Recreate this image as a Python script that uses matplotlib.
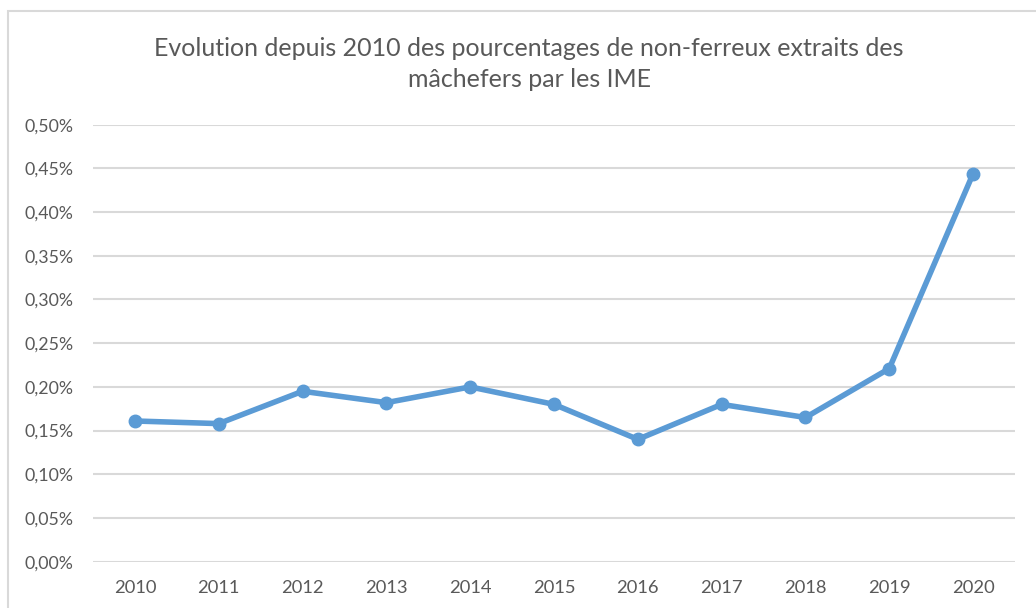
import matplotlib
matplotlib.use("Agg")
import matplotlib.pyplot as plt
from matplotlib.ticker import FuncFormatter, MultipleLocator
from matplotlib.patches import Rectangle

# Data (values in %)
years = ["2010", "2011", "2012", "2013", "2014", "2015",
         "2016", "2017", "2018", "2019", "2020"]
pct_non_ferreux = [0.161, 0.158, 0.195, 0.182, 0.200, 0.180,
                   0.140, 0.180, 0.165, 0.221, 0.444]

title = "Evolution depuis 2010 des pourcentages de non-ferreux extraits des\nmâchefers par les IME"

plt.rcParams['font.family'] = ['Lato', 'DejaVu Sans']

fig = plt.figure(figsize=(10.36, 6.08), dpi=100)
ax = fig.add_axes([93 / 1036, 1 - 561.7 / 608, (1015 - 93) / 1036, (561.7 - 124.7) / 608])

# chart area border (cut off on right and bottom like the screenshot)
fig.patches.append(Rectangle((8 / 1036, -0.1), 1.2, 1 - 11 / 608 + 0.1,
                             transform=fig.transFigure, fill=False,
                             edgecolor="#d9d9d9", linewidth=1.5))

x = range(len(years))
ax.plot(x, pct_non_ferreux, color="#5b9bd5", linewidth=4,
        marker="o", markersize=9, solid_joinstyle="round", zorder=3)

ax.set_xlim(-0.5, len(years) - 0.5)
ax.set_ylim(0, 0.5)
ax.set_xticks(list(x))
ax.set_xticklabels(years)
ax.yaxis.set_major_locator(MultipleLocator(0.05))
ax.yaxis.set_major_formatter(FuncFormatter(lambda v, p: f"{v:.2f}%".replace(".", ",")))

ax.grid(axis="y", color="#d9d9d9", linewidth=1.5)
ax.set_axisbelow(True)
for s in ax.spines.values():
    s.set_visible(False)
ax.tick_params(axis="both", length=0, colors="#595959")
ax.tick_params(axis="y", pad=14, labelsize=12.8)
ax.tick_params(axis="x", pad=13, labelsize=13.2)

fig.text(529 / 1036, 1 - 64 / 608, title, ha="center", va="center",
         fontsize=18, color="#595959", linespacing=1.4)

fig.savefig("out.png", dpi=100, facecolor="white")
